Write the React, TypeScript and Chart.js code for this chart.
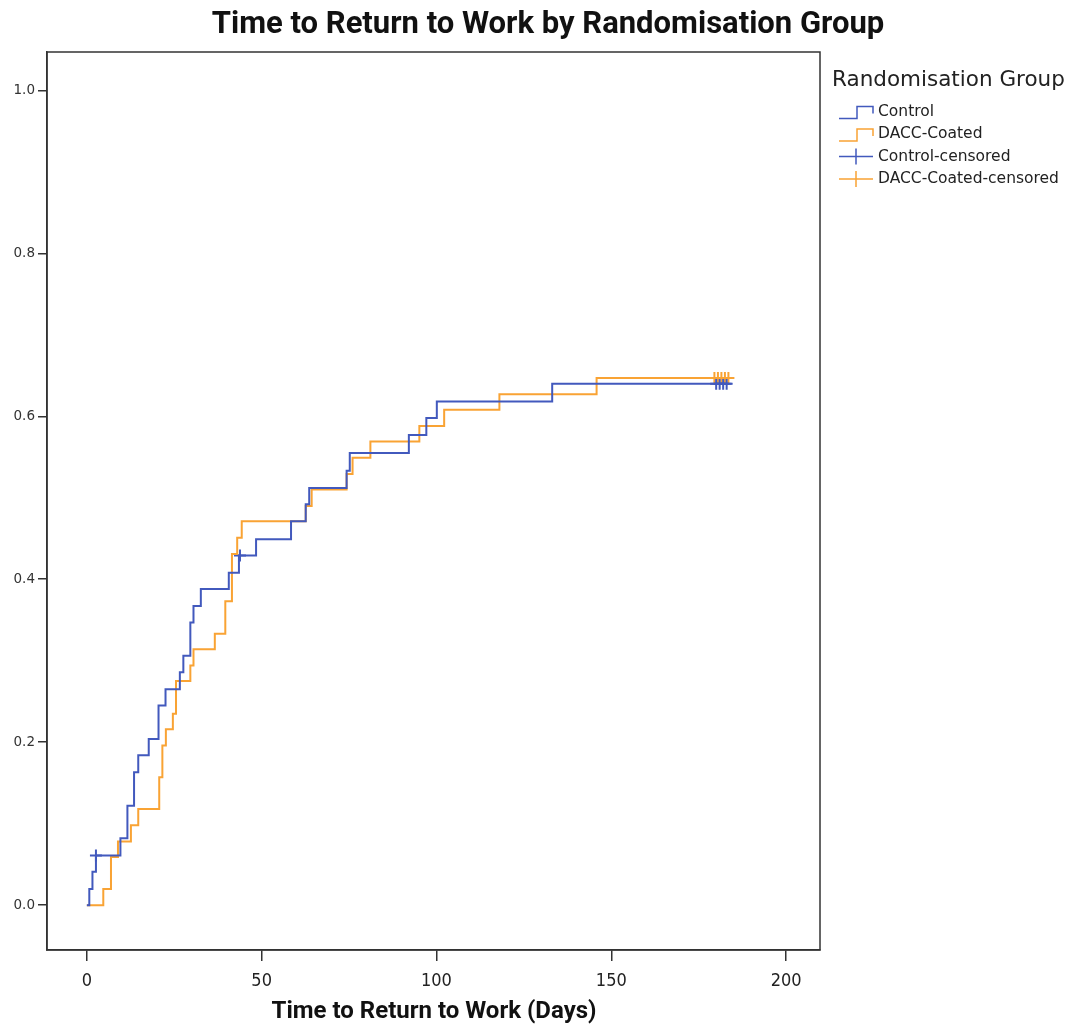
import React, { useEffect, useRef } from 'react';
import { Chart, registerables } from 'chart.js';

Chart.register(...registerables);

const chartTitle = 'Time to Return to Work by Randomisation Group';
const xAxisTitle = 'Time to Return to Work (Days)';
const legendTitle = 'Randomisation Group';
const seriesNames = ['Control', 'DACC-Coated', 'Control-censored', 'DACC-Coated-censored'];
const xTickValues = [0, 50, 100, 150, 200];
const yTickValues = [0, 0.2, 0.4, 0.6, 0.8, 1.0];

const controlDays = [0, 0.7, 1.6, 2.6, 9.6, 11.6, 13.5, 14.7, 17.7, 20.5, 22.5, 26.6, 27.6, 29.6, 30.5, 32.6, 40.6, 43.5, 48.4, 58.4, 62.6, 63.6, 74.3, 75.2, 92.1, 97.1, 100.1, 133.1, 184.4];
const controlValues = [0, 0.02, 0.041, 0.061, 0.082, 0.122, 0.163, 0.184, 0.204, 0.245, 0.265, 0.286, 0.306, 0.347, 0.367, 0.388, 0.408, 0.429, 0.449, 0.471, 0.492, 0.512, 0.533, 0.555, 0.577, 0.598, 0.618, 0.64, 0.64];

const daccDays = [0, 4.7, 6.9, 8.9, 12.6, 14.7, 20.7, 21.6, 22.6, 24.6, 25.5, 29.6, 30.5, 36.6, 39.6, 41.5, 43.0, 44.3, 62.6, 64.3, 74.3, 76.0, 81.1, 95.1, 102.2, 118.0, 145.8, 184.4];
const daccValues = [0, 0.02, 0.059, 0.078, 0.098, 0.118, 0.157, 0.196, 0.216, 0.235, 0.275, 0.294, 0.314, 0.333, 0.373, 0.431, 0.451, 0.471, 0.49, 0.51, 0.529, 0.549, 0.569, 0.588, 0.608, 0.627, 0.647, 0.647];

const controlCensorDays = [2.6, 43.8, 180.0, 181.0, 182.0, 183.0];
const controlCensorValues = [0.061, 0.429, 0.64, 0.64, 0.64, 0.64];
const daccCensorDays = [179.5, 180.5, 181.5, 182.5, 183.5];
const daccCensorValues = [0.647, 0.647, 0.647, 0.647, 0.647];

const BLUE = '#4259bd';
const ORANGE = '#f9a334';
const AXIS = '#333333';

const toPoints = (xs: number[], ys: number[]) => xs.map((x, i) => ({ x, y: ys[i] }));

const decorPlugin = {
  id: 'decor',
  afterDraw(chart: any) {
    const { ctx, chartArea } = chart;
    ctx.save();
    // frame
    ctx.strokeStyle = AXIS;
    ctx.lineWidth = 1.5;
    ctx.strokeRect(chartArea.left, chartArea.top, chartArea.right - chartArea.left, chartArea.bottom - chartArea.top);

    // title
    ctx.fillStyle = '#111';
    ctx.textAlign = 'center';
    ctx.textBaseline = 'middle';
    ctx.font = 'bold 31px Roboto, "Liberation Sans", sans-serif';
    ctx.fillText(chartTitle, 548, 25);

    // x axis title
    ctx.font = 'bold 24px Roboto, "Liberation Sans", sans-serif';
    ctx.fillText(xAxisTitle, 434, 1012);

    // legend
    ctx.textAlign = 'left';
    ctx.font = '21.5px "DejaVu Sans", sans-serif';
    ctx.fillStyle = '#222';
    ctx.fillText(legendTitle, 832, 80);

    const rows = [111.5, 134, 156.5, 179];
    const colors = [BLUE, ORANGE, BLUE, ORANGE];
    ctx.font = '15.5px "DejaVu Sans", sans-serif';
    rows.forEach((y, i) => {
      ctx.strokeStyle = colors[i];
      ctx.lineWidth = 1.5;
      ctx.beginPath();
      if (i < 2) {
        ctx.moveTo(839, y + 7);
        ctx.lineTo(857, y + 7);
        ctx.lineTo(857, y - 5);
        ctx.lineTo(873, y - 5);
        ctx.lineTo(873, y + 2);
      } else {
        ctx.moveTo(839, y);
        ctx.lineTo(873, y);
        ctx.moveTo(856, y - 8);
        ctx.lineTo(856, y + 8);
      }
      ctx.stroke();
      ctx.fillStyle = '#222';
      ctx.fillText(seriesNames[i], 878, y);
    });
    ctx.restore();
  },
};

export default function App() {
  const ref = useRef<HTMLCanvasElement | null>(null);

  useEffect(() => {
    document.body.style.margin = '0';
    const canvas = ref.current;
    if (!canvas) return;
    const chart = new Chart(canvas, {
      type: 'line',
      data: {
        datasets: [
          {
            label: seriesNames[0],
            data: toPoints(controlDays, controlValues),
            borderColor: BLUE,
            borderWidth: 2,
            stepped: true,
            pointRadius: 0,
            fill: false,
          },
          {
            label: seriesNames[1],
            data: toPoints(daccDays, daccValues),
            borderColor: ORANGE,
            borderWidth: 2,
            stepped: true,
            pointRadius: 0,
            fill: false,
          },
          {
            label: seriesNames[2],
            data: toPoints(controlCensorDays, controlCensorValues),
            borderColor: BLUE,
            backgroundColor: BLUE,
            showLine: false,
            pointStyle: 'cross',
            pointRadius: 6,
            pointBorderWidth: 2,
          },
          {
            label: seriesNames[3],
            data: toPoints(daccCensorDays, daccCensorValues),
            borderColor: ORANGE,
            backgroundColor: ORANGE,
            showLine: false,
            pointStyle: 'cross',
            pointRadius: 6,
            pointBorderWidth: 2,
          },
        ],
      },
      options: {
        animation: false,
        responsive: true,
        maintainAspectRatio: false,
        layout: { padding: { top: 52, right: 253, left: 0, bottom: 0 } },
        plugins: {
          legend: { display: false },
          title: { display: false },
          tooltip: { enabled: false },
        },
        scales: {
          x: {
            type: 'linear',
            min: -11.4,
            max: 209.7,
            afterBuildTicks: (s: any) => {
              s.ticks = xTickValues.map((v) => ({ value: v }));
            },
            afterFit: (s: any) => {
              s.height = 75;
              s.paddingLeft = 0;
              s.paddingRight = 0;
            },
            grid: { display: true, drawOnChartArea: false, drawTicks: true, tickLength: 11, color: AXIS, lineWidth: 1.5 },
            border: { display: true, color: AXIS, width: 1.5 },
            ticks: {
              color: '#222',
              padding: 10,
              maxRotation: 0,
              font: { family: '"Liberation Sans Narrow", "DejaVu Sans Condensed", sans-serif', size: 18 },
              callback: (v: any) => String(v),
            },
          },
          y: {
            type: 'linear',
            min: -0.055,
            max: 1.047,
            afterBuildTicks: (s: any) => {
              s.ticks = yTickValues.map((v) => ({ value: v }));
            },
            afterFit: (s: any) => {
              s.width = 47;
              s.paddingTop = 0;
              s.paddingBottom = 0;
            },
            grid: { display: true, drawOnChartArea: false, drawTicks: true, tickLength: 9, color: AXIS, lineWidth: 1.5 },
            border: { display: true, color: AXIS, width: 1.5 },
            ticks: {
              color: '#333',
              padding: 3,
              font: { family: '"DejaVu Sans", sans-serif', size: 13.5 },
              callback: (v: any) => Number(v).toFixed(1),
            },
          },
        },
      },
      plugins: [decorPlugin],
    });
    return () => chart.destroy();
  }, []);

  return (
    <div style={{ width: 1073, height: 1025, position: 'relative', background: '#fff' }}>
      <canvas ref={ref} style={{ display: 'block' }} />
    </div>
  );
}
